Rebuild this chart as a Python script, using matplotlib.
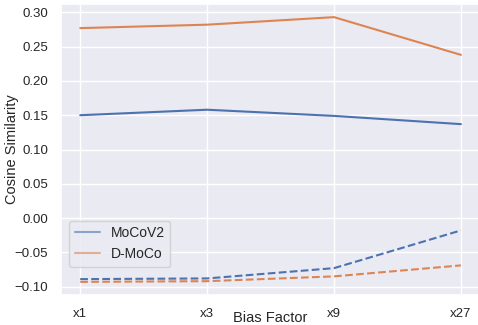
import matplotlib
matplotlib.use("Agg")
import matplotlib.pyplot as plt
import seaborn as sns

# ── data ──
bias_labels = ["x1", "x3", "x9", "x27"]
mocov2_pos = [0.150, 0.158, 0.149, 0.137]
dmoco_pos = [0.277, 0.282, 0.293, 0.238]
mocov2_neg = [-0.089, -0.088, -0.073, -0.018]
dmoco_neg = [-0.093, -0.092, -0.085, -0.069]

sns.set_theme(style="darkgrid")
plt.rcParams["font.family"] = ["Liberation Sans", "DejaVu Sans"]
plt.rcParams["xtick.labelsize"] = 9.5
plt.rcParams["ytick.labelsize"] = 9.5
plt.rcParams["axes.labelsize"] = 10.5
plt.rcParams["legend.fontsize"] = 10
blue, orange = sns.color_palette()[0], sns.color_palette()[1]

fig, ax = plt.subplots(figsize=(4.78, 3.25), dpi=100)
x = range(len(bias_labels))

ax.plot(x, mocov2_pos, color=blue, lw=1.5, label="MoCoV2")
ax.plot(x, dmoco_pos, color=orange, lw=1.5, label="D-MoCo")
ax.plot(x, mocov2_neg, color=blue, lw=1.5, ls="--")
ax.plot(x, dmoco_neg, color=orange, lw=1.5, ls="--")

ax.set_xticks(list(x))
ax.set_xticklabels(bias_labels)
ax.set_xlabel("Bias Factor")
ax.set_ylabel("Cosine Similarity")
ax.xaxis.set_label_coords(0.5, -0.054)
ax.yaxis.set_label_coords(-0.100, 0.5)

leg = ax.legend(loc="lower left", bbox_to_anchor=(0.019, 0.097), borderaxespad=0,
                handlelength=1.8)
for h in leg.get_lines():
    h.set_alpha(0.6)

fig.subplots_adjust(left=0.128, right=1.004, top=0.988, bottom=0.092)
fig.savefig("out.png", dpi=100)
